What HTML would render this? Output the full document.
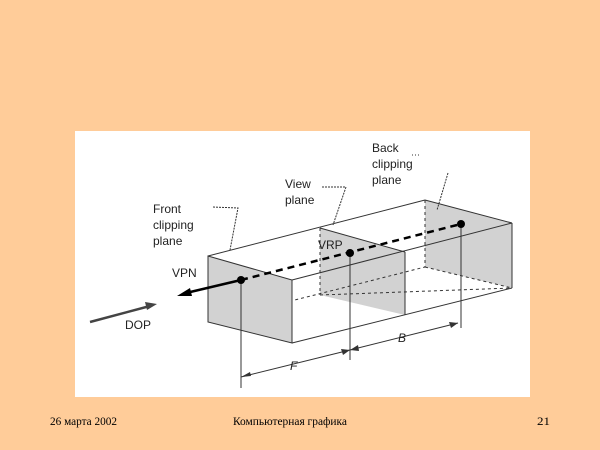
<!DOCTYPE html>
<html><head><meta charset="utf-8"><style>
html,body{margin:0;padding:0;background:#FFCC99;}
svg{display:block}
</style></head><body>
<svg width="600" height="450" viewBox="0 0 600 450" xmlns="http://www.w3.org/2000/svg">
<rect width="600" height="450" fill="#FFCC99"/>
<rect x="75" y="131" width="455" height="266" fill="#fff"/>
<g stroke="#333" stroke-width="1" fill="none">
<!-- back face -->
<polygon points="425,200 512,223 512,288 425,267" fill="#d2d2d2" stroke="none"/>
<line x1="512" y1="223" x2="512" y2="288"/>
<line x1="425" y1="200" x2="425" y2="267" stroke-dasharray="3,3"/>
<line x1="425" y1="267" x2="512" y2="288" stroke-dasharray="3,3"/>
<!-- view plane -->
<polygon points="320,228 405,252 405,315 320,295" fill="#d2d2d2" stroke="none"/>
<line x1="405" y1="252" x2="405" y2="315"/>
<line x1="320" y1="228" x2="405" y2="252"/>
<line x1="320" y1="228" x2="320" y2="295" stroke-dasharray="3,3"/>
<line x1="320" y1="295" x2="512" y2="288" stroke-dasharray="3,3"/>
<line x1="208" y1="322" x2="425" y2="267" stroke-dasharray="3,3"/>
<!-- box edges -->
<line x1="208" y1="256" x2="425" y2="200"/>
<line x1="425" y1="200" x2="512" y2="223"/>
<line x1="292" y1="280" x2="512" y2="223"/>
<line x1="292" y1="343" x2="512" y2="288"/>
<!-- front face -->
<polygon points="208,256 292,280 292,343 208,322" fill="#d2d2d2" stroke="#333"/>
<!-- central dashed axis -->
<line x1="241" y1="280" x2="461" y2="224" stroke="#000" stroke-width="2.5" stroke-dasharray="7,5"/>
<!-- verticals -->
<line x1="241" y1="280" x2="241" y2="388"/>
<line x1="350" y1="253" x2="350" y2="360"/>
<line x1="461" y1="224" x2="461" y2="328"/>
<!-- dimension lines -->
<line x1="241" y1="377" x2="350" y2="350"/>
<line x1="350" y1="350" x2="458" y2="323"/>
<!-- leaders -->
<path d="M213,207 L238,208 L230,250" stroke-dasharray="2,1"/>
<path d="M322,187 L346,187 L333,225" stroke-dasharray="2,1"/>
<path d="M412,155 L420,155" stroke-dasharray="1,2"/>
<path d="M448,173 L437,210" stroke-dasharray="2,1"/>
</g>
<!-- arrowheads dims -->
<g fill="#333">
<polygon points="241,377 250,372 251,376"/>
<polygon points="350,350 341,349 343,355"/>
<polygon points="350,350 358,345 359,351"/>
<polygon points="458,323 449,322 451,328"/>
</g>
<!-- dots -->
<g fill="#000">
<circle cx="241" cy="280" r="4"/>
<circle cx="350" cy="253" r="4"/>
<circle cx="461" cy="224" r="4"/>
</g>
<!-- VPN arrow -->
<line x1="241" y1="280" x2="186" y2="293" stroke="#000" stroke-width="2.5"/>
<polygon points="177,296 190,288 192,296" fill="#000"/>
<!-- DOP arrow -->
<line x1="90" y1="322" x2="150" y2="306" stroke="#444" stroke-width="2.5"/>
<polygon points="157,304 145,302 147,310" fill="#444"/>
<g font-family="Liberation Sans, sans-serif" font-size="12" fill="#222">
<text x="372" y="152">Back</text>
<text x="372" y="168">clipping</text>
<text x="372" y="184">plane</text>
<text x="285" y="188">View</text>
<text x="285" y="204">plane</text>
<text x="153" y="213">Front</text>
<text x="153" y="229">clipping</text>
<text x="153" y="245">plane</text>
<text x="318" y="249">VRP</text>
<text x="172" y="277">VPN</text>
<text x="125" y="329">DOP</text>
<text x="290" y="370" font-style="italic">F</text>
<text x="398" y="342" font-style="italic">B</text>
</g>
<g font-family="Liberation Serif, serif" font-size="12" fill="#000">
<text x="50" y="425" textLength="67" lengthAdjust="spacingAndGlyphs">26 марта 2002</text>
<text x="233" y="425" textLength="114" lengthAdjust="spacingAndGlyphs">Компьютерная графика</text>
<text x="537" y="425" textLength="13" lengthAdjust="spacingAndGlyphs">21</text>
</g>
</svg>
</body></html>
